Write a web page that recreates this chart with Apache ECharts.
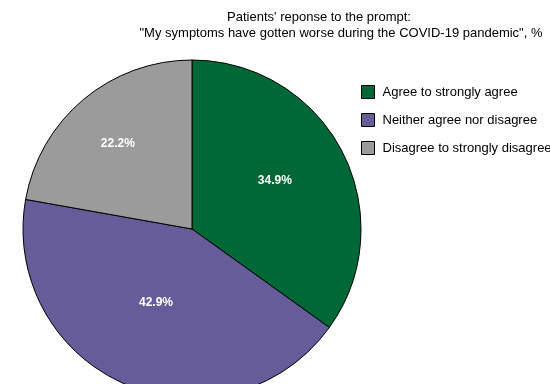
<!DOCTYPE html>
<html>
<head>
<meta charset="utf-8">
<script src="https://cdn.jsdelivr.net/npm/echarts@6/dist/echarts.min.js"></script>
<style>
  html, body { margin: 0; padding: 0; background: #fff; }
  #chart { width: 550px; height: 384px; }
</style>
</head>
<body>
<div id="chart"></div>
<script>
var categories = ['Agree to strongly agree', 'Neither agree nor disagree', 'Disagree to strongly disagree'];
var values = [34.9, 42.9, 22.2];
var colors = ['#006837', '#655c99', '#9b9b9b'];
// small nudges so the percent labels sit where the original ones do
var labelNudge = [[5, -8], [-2, -7], [-18, -18]];

var myChart = echarts.init(document.getElementById('chart'));
var titleFont = { fontFamily: 'Liberation Sans', fontSize: 13, fontWeight: 'normal', color: '#000' };
var option = {
  backgroundColor: '#fff',
  animation: false,
  title: [
    { text: "Patients' reponse to the prompt:", left: 314, top: 6, textAlign: 'center', textStyle: titleFont },
    { text: '"My symptoms have gotten worse during the COVID-19 pandemic", %', left: 336, top: 22, textAlign: 'center', textStyle: titleFont }
  ],
  legend: {
    orient: 'vertical',
    left: 356,
    top: 80,
    itemWidth: 13,
    itemHeight: 13,
    itemGap: 14,
    icon: 'rect',
    data: categories,
    itemStyle: { borderColor: '#000', borderWidth: 1 },
    textStyle: { fontFamily: 'Liberation Sans', fontSize: 13, color: '#000', padding: [0, 0, 0, 3] }
  },
  series: [
    {
      type: 'pie',
      center: [192, 229],
      radius: 169,
      startAngle: 90,
      clockwise: true,
      label: {
        show: true,
        position: 'inside',
        formatter: function(p) { return p.value.toFixed(1) + '%'; },
        color: '#fff',
        fontFamily: 'Liberation Sans',
        fontWeight: 'bold',
        fontSize: 12
      },
      labelLine: { show: false },
      emphasis: { disabled: true },
      itemStyle: { borderColor: '#000', borderWidth: 1 },
      data: categories.map(function(c, i) {
        return {
          name: c,
          value: values[i],
          itemStyle: { color: colors[i] },
          label: { offset: labelNudge[i] }
        };
      })
    }
  ]
};
myChart.setOption(option);
</script>
</body>
</html>
